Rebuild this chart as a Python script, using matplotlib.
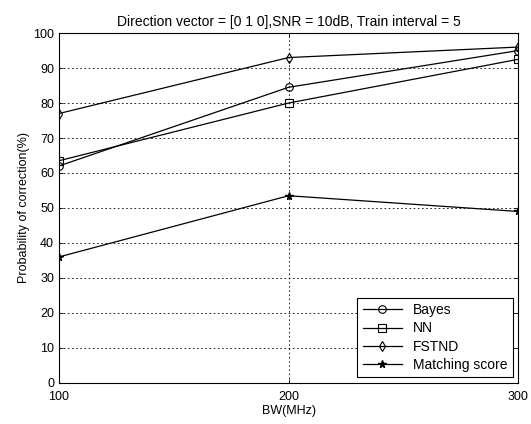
import matplotlib
matplotlib.use("Agg")
import matplotlib.pyplot as plt

bandwidth = [100, 200, 300]
bayes = [62.0, 84.5, 95.0]
nn = [63.5, 80.0, 92.5]
fstnd = [77.0, 93.0, 96.0]
matching = [36.0, 53.5, 49.0]

plt.rcParams["font.family"] = ["Liberation Sans", "DejaVu Sans"]
plt.rcParams["font.size"] = 9

fig = plt.figure(figsize=(5.31, 4.24), dpi=100)
ax = fig.add_axes([0.111, 0.097, 0.865, 0.825])

line_kw = dict(color="black", linewidth=0.9, markersize=5.5,
               markerfacecolor="none", markeredgewidth=0.8)
ax.plot(bandwidth, bayes, marker="o", label="Bayes", **line_kw)
ax.plot(bandwidth, nn, marker="s", label="NN", **line_kw)
ax.plot(bandwidth, fstnd, marker="d", label="FSTND", **line_kw)
ax.plot(bandwidth, matching, marker="*", label="Matching score",
        color="black", linewidth=0.9, markersize=5.5)

ax.set_xlim(100, 300)
ax.set_ylim(0, 100)
ax.set_xticks(bandwidth)
ax.set_yticks(range(0, 101, 10))
ax.tick_params(direction="in", length=3, width=0.6, top=True, right=True)
ax.tick_params(axis="x", pad=6)
ax.grid(True, color="black", linestyle=(0, (2, 3)), linewidth=0.6)
for spine in ax.spines.values():
    spine.set_linewidth(0.8)

ax.set_title("Direction vector = [0 1 0],SNR = 10dB, Train interval = 5",
             fontsize=10, pad=5)
ax.set_xlabel("BW(MHz)", labelpad=1)
ax.set_ylabel("Probability of correction(%)", labelpad=2)

leg = ax.legend(loc="lower right", fancybox=False, framealpha=1,
                edgecolor="black", fontsize=10, borderaxespad=0.4,
                handlelength=2.8, labelspacing=0.3, borderpad=0.4)
leg.get_frame().set_linewidth(0.8)

fig.savefig("out.png", dpi=100)
